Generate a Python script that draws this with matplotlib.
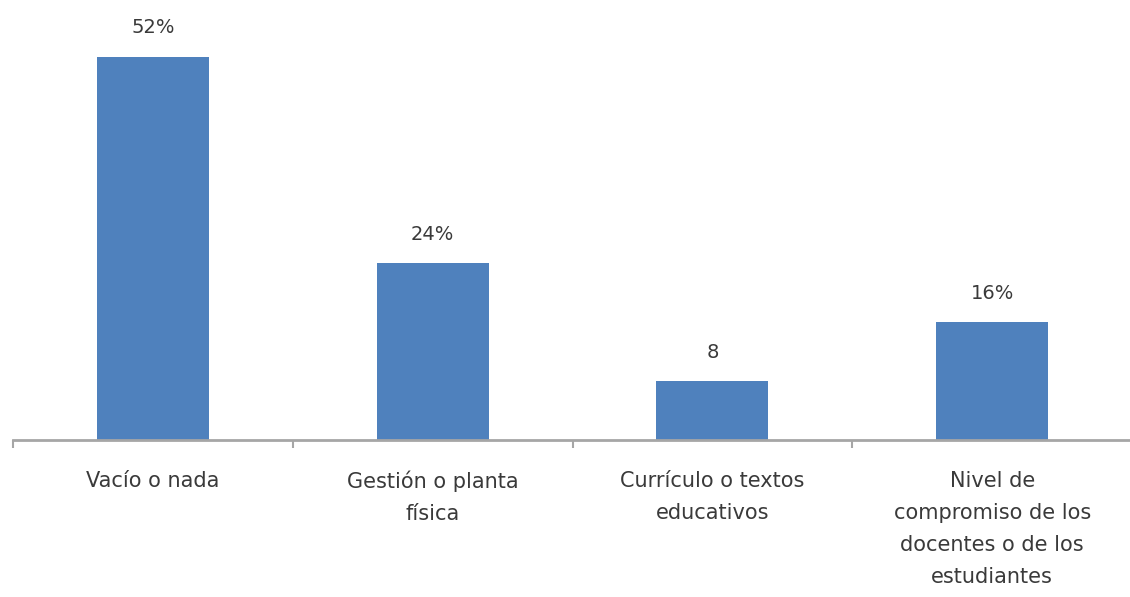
import matplotlib.pyplot as plt
import numpy as np

categories = ["Vacío o nada", "Gestión o planta\nfísica", "Currículo o textos\neducativos",
              "Nivel de\ncompromiso de los\ndocentes o de los\nestudiantes"]
values = [52, 24, 8, 16]
value_labels = ["52%", "24%", "8", "16%"]

bar_color = "#4F81BD"
text_color = "#3A3A3A"
axis_color = "#A6A6A6"

fig = plt.figure(figsize=(11.3, 5.97), dpi=100)
ax = fig.add_axes([13 / 1130, 1 - 440 / 597, 1119 / 1130, 440 / 597])

x = np.arange(len(values))
ax.bar(x, values, width=0.40, color=bar_color, zorder=2)
for xi, v, lab in zip(x, values, value_labels):
    ax.annotate(lab, (xi, v), xytext=(0, 14), textcoords="offset points",
                ha="center", va="bottom", fontsize=14, color=text_color)

ax.set_xlim(-0.5, len(values) - 0.5)
ax.set_ylim(0, 59.7)
ax.set_yticks([])
for s in ["top", "right", "left"]:
    ax.spines[s].set_visible(False)
ax.spines["bottom"].set_color(axis_color)
ax.spines["bottom"].set_linewidth(2)

ax.set_xticks(x)
ax.set_xticklabels(categories, fontsize=15, color=text_color, linespacing=1.75)
ax.tick_params(axis="x", which="major", length=0, pad=22)
ax.set_xticks(np.arange(len(values) + 1) - 0.5, minor=True)
ax.tick_params(axis="x", which="minor", length=6, width=1.5, color=axis_color)

fig.savefig("out.png", dpi=100)
